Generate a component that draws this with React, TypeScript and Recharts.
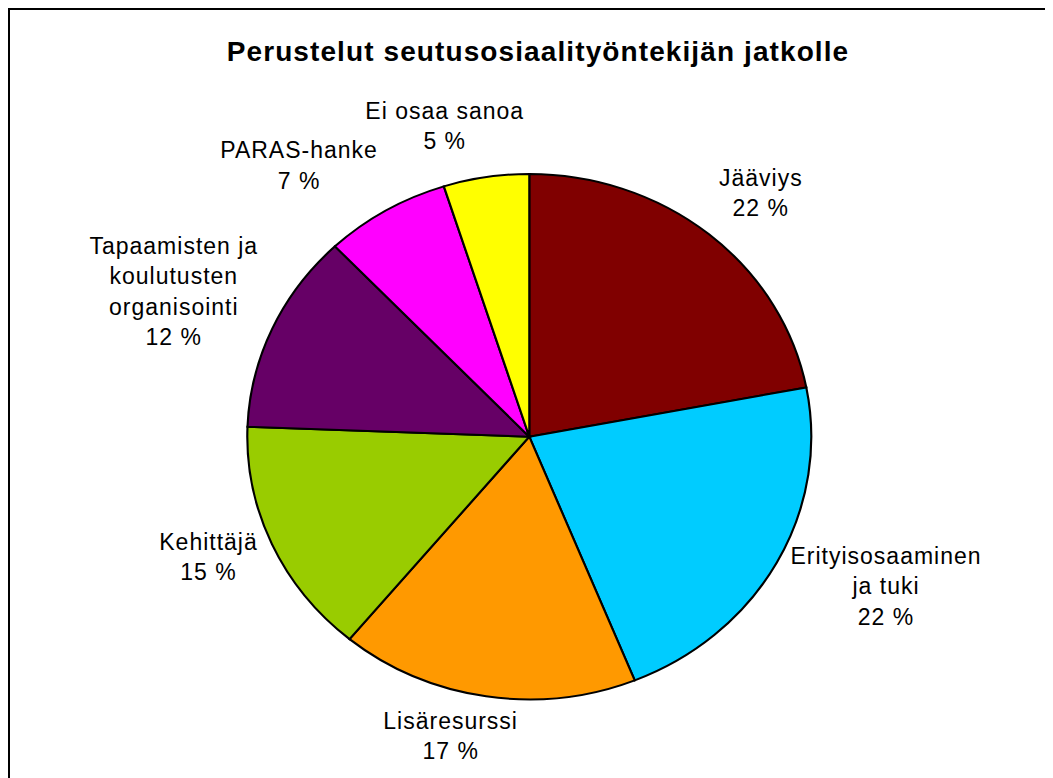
import { Cell, Pie, PieChart } from "recharts";

// slices clockwise from 12 o'clock
const categories = [
  "Jääviys",
  "Erityisosaaminen\nja tuki",
  "Lisäresurssi",
  "Kehittäjä",
  "Tapaamisten ja\nkoulutusten\norganisointi",
  "PARAS-hanke",
  "Ei osaa sanoa",
];
const shares = [22.0, 21.9, 17.1, 14.6, 12.3, 7.2, 4.9];
const colors = ["#800000", "#00CCFF", "#FF9900", "#99CC00", "#660066", "#FF00FF", "#FFFF00"];
const title = "Perustelut seutusosiaalityöntekijän jatkolle";

const data = categories.map((name, i) => ({ name, value: shares[i] }));
const total = shares.reduce((a, b) => a + b, 0);

const W = 1043;
const H = 768;
const CX = 519.3;
const CY = 426.7;
const RY = 262.7;
const SX = 282 / 262.7; // the original pie is a slightly wide ellipse
const FONT = "'Liberation Sans', Arial, Helvetica, sans-serif";
const FS = 23;
const LS = 1;
const LINE = 30.5;
const CAP = 16.7;
const PAD_TOP = 2;
const PAD_BOTTOM = 14;
const GAP = 1.055;

let ctx: CanvasRenderingContext2D | null = null;
function textWidth(s: string) {
  if (!ctx) ctx = document.createElement("canvas").getContext("2d");
  if (!ctx) return s.length * FS * 0.55;
  ctx.font = `${FS}px ${FONT}`;
  return ctx.measureText(s).width + LS * s.length;
}

const clamp = (v: number) => Math.max(0, Math.min(1, v));

function renderLabel(props: any) {
  const { cx, cy, midAngle, outerRadius, index } = props;
  const pct = Math.round((shares[index] / total) * 100);
  const lines = [...categories[index].split("\n"), `${pct} %`];
  const w = Math.max(...lines.map(textWidth));
  const h = PAD_TOP + CAP + (lines.length - 1) * LINE + PAD_BOTTOM;
  const rad = (midAngle * Math.PI) / 180;
  const cos = Math.cos(rad);
  const sin = Math.sin(rad);
  // anchor just outside the rim (screen units, relative to centre)
  const px = outerRadius * GAP * cos * SX;
  const py = -outerRadius * GAP * sin;
  // where the anchor sits inside the label box
  const f = clamp(0.5 - 1.6 * cos);
  const g = clamp(0.5 + 0.5 * sin);
  const boxMid = px - f * w + w / 2;
  const boxTop = py - g * h;
  const x = cx + boxMid / SX;
  const baseline = cy + boxTop + PAD_TOP + CAP;
  return (
    <text
      key={`lbl-${index}`}
      transform={`translate(${x},${baseline}) scale(${1 / SX},1)`}
      textAnchor="middle"
      fontFamily={FONT}
      fontSize={FS}
      letterSpacing={LS}
      fill="#000"
    >
      {lines.map((l, i) => (
        <tspan key={i} x={0} dy={i === 0 ? 0 : LINE}>
          {l}
        </tspan>
      ))}
    </text>
  );
}

export default function App() {
  return (
    <div
      style={{
        position: "relative",
        width: 1045,
        height: 770,
        boxSizing: "border-box",
        borderTop: "2px solid #000",
        borderLeft: "2px solid #000",
        overflow: "hidden",
        background: "#fff",
      }}
    >
      <div
        style={{
          position: "absolute",
          left: 0,
          top: 0,
          transform: `scaleX(${SX})`,
          transformOrigin: `${CX}px 0px`,
        }}
      >
        <PieChart width={W} height={H} margin={{ top: 0, right: 0, bottom: 0, left: 0 }}>
          <Pie
            data={data}
            dataKey="value"
            nameKey="name"
            cx={CX}
            cy={CY}
            outerRadius={RY}
            startAngle={90}
            endAngle={-270}
            stroke="#000"
            strokeWidth={2}
            label={renderLabel}
            labelLine={false}
            isAnimationActive={false}
          >
            {data.map((entry, i) => (
              <Cell key={`cell-${i}`} fill={colors[i]} />
            ))}
          </Pie>
        </PieChart>
      </div>
      <svg
        width={W}
        height={100}
        style={{ position: "absolute", left: 0, top: 0, pointerEvents: "none" }}
      >
        <text
          x={528}
          y={51}
          textAnchor="middle"
          fontFamily={FONT}
          fontSize={28}
          fontWeight="bold"
          letterSpacing={1.1}
          fill="#000"
        >
          {title}
        </text>
      </svg>
    </div>
  );
}
